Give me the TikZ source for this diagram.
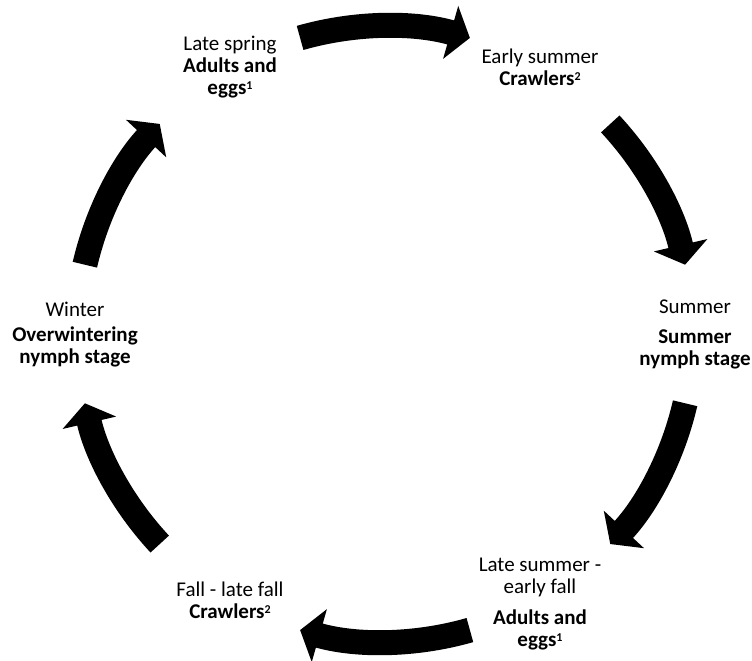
\documentclass[tikz,border=0pt]{standalone}
\usepackage{fontspec}
\setmainfont{Carlito}
\usetikzlibrary{arrows.meta}
\newcommand{\footmark}[1]{\raisebox{0.5ex}{\fontsize{12}{12}\selectfont #1}}
\tikzstyle{stage}=[align=center,inner sep=0pt,font=\fontsize{21}{22}\selectfont]
\tikzstyle{cyclearrow}=[draw,line width=25pt,-{Triangle[width=54pt,length=20pt]}]

\begin{document}
\begin{tikzpicture}[x=1pt,y=1pt]
    \useasboundingbox (-385,-327) rectangle (367,334);
    % the six stages round the year
    \node[stage] (spring) at (-155,267) {Late spring\\\textbf{Adults and}\\\textbf{eggs\footmark{1}}};
    \node[stage] (esummer) at (155,267) {Early summer\\\textbf{Crawlers\footmark{2}}};
    \node[stage] (summer) at (310,0) {Summer\\[8pt]\textbf{Summer}\\\textbf{nymph stage}};
    \node[stage] (lsummer) at (155,-270) {Late summer -\\early fall\\[9pt]\textbf{Adults and}\\\textbf{eggs\footmark{1}}};
    \node[stage] (fall) at (-155,-266) {Fall - late fall\\\textbf{Crawlers\footmark{2}}};
    \node[stage] (winter) at (-310,-1) {Winter\\[3pt]\textbf{Overwintering}\\\textbf{nymph stage}};
    % the arrows between the stages
    \foreach \name/\sa/\ea in {a1/106/74, a2/43/13, a3/-13/-43,
                               a4/-74/-106, a5/-137/-167, a6/167/137}
    {
        \coordinate (\name) at (\sa:308pt);
        \path[cyclearrow] (\name) arc[start angle=\sa, end angle=\ea, radius=308pt];
    }
\end{tikzpicture}
\end{document}
